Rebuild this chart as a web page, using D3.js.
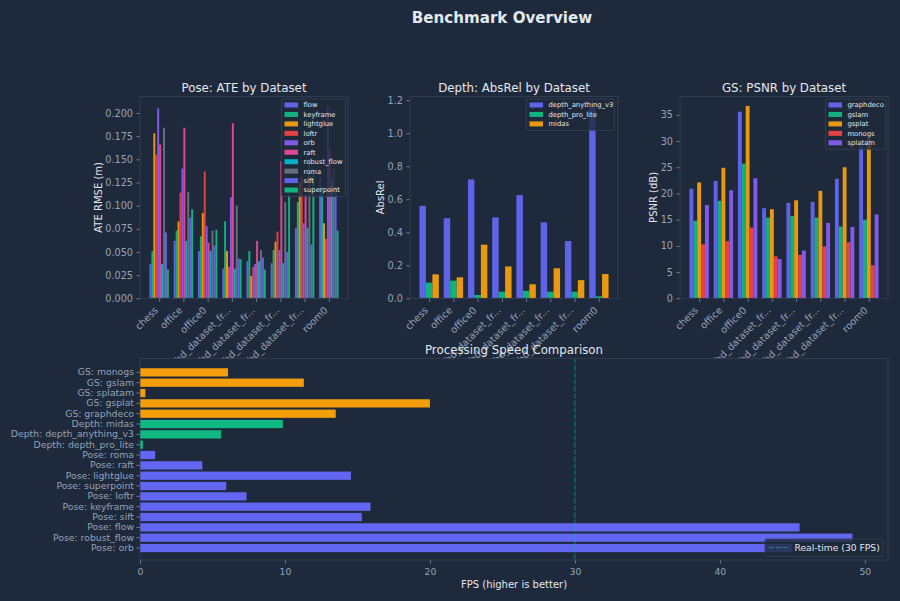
<!DOCTYPE html>
<html>
<head>
<meta charset="utf-8">
<script src="https://cdn.jsdelivr.net/npm/d3@7"></script>
<style>
  html, body { margin: 0; background: #1e293b; }
  text { font-family: "DejaVu Sans", sans-serif; }
</style>
</head>
<body>
<div id="app"></div>
<script>
const width = 900, height = 601;

const datasets = ["chess", "office", "office0", "rgbd_dataset_fr...", "rgbd_dataset_fr...", "rgbd_dataset_fr...", "rgbd_dataset_fr...", "room0"];

const poseMethods = ["flow", "keyframe", "lightglue", "loftr", "orb", "raft", "robust_flow", "roma", "sift", "superpoint"];
const poseColors = ["#6366f1", "#10b981", "#f59e0b", "#ef4444", "#8b5cf6", "#ec4899", "#06b6d4", "#6b7280", "#6366f1", "#10b981"];
const poseValues = [
  [0.037, 0.051, 0.178, 0.155, 0.205, 0.166, 0.037, 0.184, 0.071, 0.031],
  [0.062, 0.073, 0.083, 0.114, 0.140, 0.184, 0.062, 0.115, 0.087, 0.096],
  [0.051, 0.067, 0.092, 0.137, 0.078, 0.060, 0.051, 0.073, 0.057, 0.074],
  [0.032, 0.083, 0.051, 0.034, 0.109, 0.189, 0.032, 0.100, 0.043, 0.042],
  [0.040, 0.051, 0.024, 0.034, 0.037, 0.062, 0.040, 0.052, 0.044, 0.031],
  [0.038, 0.052, 0.061, 0.072, 0.052, 0.148, 0.038, 0.104, 0.050, 0.112],
  [0.076, 0.104, 0.125, 0.131, 0.081, 0.112, 0.076, 0.150, 0.058, 0.140],
  [0.130, 0.120, 0.081, 0.064, 0.207, 0.160, 0.130, 0.140, 0.120, 0.073]
];

const depthMethods = ["depth_anything_v3", "depth_pro_lite", "midas"];
const depthColors = ["#6366f1", "#10b981", "#f59e0b"];
const depthValues = [
  [0.56, 0.095, 0.145],
  [0.485, 0.107, 0.127],
  [0.72, 0.02, 0.325],
  [0.49, 0.04, 0.193],
  [0.625, 0.045, 0.085],
  [0.46, 0.04, 0.182],
  [0.347, 0.04, 0.11],
  [1.16, 0.012, 0.147]
];

const gsMethods = ["graphdeco", "gslam", "gsplat", "monogs", "splatam"];
const gsColors = ["#6366f1", "#10b981", "#f59e0b", "#ef4444", "#8b5cf6"];
const gsValues = [
  [20.9, 14.8, 22.1, 10.3, 17.8],
  [22.4, 18.6, 24.9, 10.9, 20.6],
  [35.6, 25.7, 36.7, 13.5, 22.9],
  [17.2, 15.4, 17.0, 8.0, 7.5],
  [18.2, 15.7, 18.7, 8.3, 9.1],
  [18.4, 15.4, 20.5, 9.9, 14.4],
  [22.8, 13.7, 25.0, 10.7, 13.6],
  [29.5, 15.0, 30.5, 6.3, 16.0]
];

const speedLabels = ["Pose: orb", "Pose: robust_flow", "Pose: flow", "Pose: sift", "Pose: keyframe", "Pose: loftr", "Pose: superpoint", "Pose: lightglue", "Pose: raft", "Pose: roma", "Depth: depth_pro_lite", "Depth: depth_anything_v3", "Depth: midas", "GS: graphdeco", "GS: gsplat", "GS: splatam", "GS: gslam", "GS: monogs"];
const speedValues = [45.0, 49.15, 45.5, 15.3, 15.9, 7.35, 5.95, 14.55, 4.3, 1.05, 0.2, 5.6, 9.85, 13.5, 20.0, 0.37, 11.3, 6.07];
const speedColors = speedLabels.map(d => d.startsWith("Pose") ? "#6366f1" : d.startsWith("Depth") ? "#10b981" : "#f59e0b");

const bg = "#1e293b", edge = "#334155", tickCol = "#94a3b8", titleCol = "#e2e8f0";

const svg = d3.select("#app").append("svg")
  .attr("width", width).attr("height", height)
  .style("display", "block")
  .style("background", bg);

svg.append("text")
  .attr("x", 502).attr("y", 23)
  .attr("text-anchor", "middle")
  .attr("fill", titleCol)
  .attr("font-size", 15.1).attr("font-weight", "bold")
  .text("Benchmark Overview");

function grouped(opts) {
  const { left, right, values, methods, colors, yMax, ticks, fmt, title, ylabel, ylabelX, legend } = opts;
  const top = 96.5, bottom = 298.3;
  const n = methods.length, w = 0.8 / n;
  const x = d3.scaleLinear().domain([-0.4 - 0.39, 7.4 + 0.39]).range([left, right]);
  const y = d3.scaleLinear().domain([0, yMax]).range([bottom, top]);
  const g = svg.append("g");

  g.append("defs").append("clipPath").attr("id", "clip" + left)
    .append("rect").attr("x", left).attr("y", top).attr("width", right - left).attr("height", bottom - top);

  const plot = g.append("g").attr("clip-path", `url(#clip${left})`);
  values.forEach((row, i) => {
    plot.selectAll(null).data(row).enter().append("rect")
      .attr("x", (d, j) => x(i - 0.4 + j * w))
      .attr("width", x(w) - x(0))
      .attr("y", d => y(d))
      .attr("height", d => y(0) - y(d))
      .attr("fill", (d, j) => colors[j])
      .attr("fill-opacity", 0.95);
  });

  const yAxis = g.append("g").attr("transform", `translate(${left},0)`)
    .call(d3.axisLeft(y).tickValues(ticks).tickFormat(fmt).tickSize(3.5).tickPadding(3.5));
  const xAxis = g.append("g").attr("transform", `translate(0,${bottom})`)
    .call(d3.axisBottom(x).tickValues(d3.range(8)).tickFormat(i => datasets[i]).tickSize(3.5));
  xAxis.selectAll("text")
    .attr("text-anchor", "end")
    .attr("x", 0).attr("y", 0).attr("dy", 0)
    .attr("transform", "translate(-1,12.5) rotate(-45)");
  [yAxis, xAxis].forEach(a => {
    a.select(".domain").remove();
    a.selectAll("line").attr("stroke", tickCol).attr("stroke-width", 0.7);
    a.selectAll("text").attr("fill", tickCol).attr("font-size", 9.7).attr("font-family", '"DejaVu Sans"');
  });

  g.append("rect").attr("x", left).attr("y", top).attr("width", right - left).attr("height", bottom - top)
    .attr("fill", "none").attr("stroke", edge).attr("stroke-width", 0.8);

  g.append("text").attr("x", (left + right) / 2).attr("y", 92)
    .attr("text-anchor", "middle").attr("fill", titleCol).attr("font-size", 11.8).text(title);
  g.append("text").attr("transform", `translate(${ylabelX},${(top + bottom) / 2}) rotate(-90)`)
    .attr("text-anchor", "middle").attr("fill", titleCol).attr("font-size", 10).text(ylabel);

  // legend sits on top of the bars, half see-through
  const lg = g.append("g");
  lg.append("rect").attr("x", legend.x).attr("y", 99).attr("width", legend.w).attr("height", 9.45 * n + 3)
    .attr("rx", 1.5).attr("fill", bg).attr("fill-opacity", 0.8).attr("stroke", edge).attr("stroke-width", 0.8);
  methods.forEach((m, j) => {
    const ly = 105 + j * 9.45;
    lg.append("rect").attr("x", legend.x + 3).attr("y", ly - 2.5).attr("width", 13.5).attr("height", 5).attr("fill", colors[j]).attr("fill-opacity", 0.95);
    lg.append("text").attr("x", legend.x + 22).attr("y", ly + 2.4).attr("fill", titleCol).attr("font-size", 6.8).text(m);
  });
}

grouped({
  left: 140, right: 348, values: poseValues, methods: poseMethods, colors: poseColors,
  yMax: 0.2178, ticks: d3.range(0, 0.201, 0.025), fmt: d3.format(".3f"),
  title: "Pose: ATE by Dataset", ylabel: "ATE RMSE (m)", ylabelX: 102,
  legend: { x: 281.5, w: 64 }
});
grouped({
  left: 410, right: 618, values: depthValues, methods: depthMethods, colors: depthColors,
  yMax: 1.2225, ticks: d3.range(0, 1.21, 0.2), fmt: d3.format(".1f"),
  title: "Depth: AbsRel by Dataset", ylabel: "AbsRel", ylabelX: 384,
  legend: { x: 526.5, w: 88 }
});
grouped({
  left: 680, right: 888, values: gsValues, methods: gsMethods, colors: gsColors,
  yMax: 38.5, ticks: d3.range(0, 36, 5), fmt: d3.format("d"),
  title: "GS: PSNR by Dataset", ylabel: "PSNR (dB)", ylabelX: 657,
  legend: { x: 825.5, w: 60 }
});

// speed panel is drawn last: its background hides the ends of the rotated labels above
const sp = { left: 140, right: 888, top: 358.5, bottom: 560 };
const sx = d3.scaleLinear().domain([0, 51.6]).range([sp.left, sp.right]);
const sy = d3.scaleBand().domain(speedLabels).range([553.2, 367.2]).paddingInner(0.2).paddingOuter(0.1);
const sg = svg.append("g");

sg.append("rect").attr("x", sp.left).attr("y", sp.top).attr("width", sp.right - sp.left).attr("height", sp.bottom - sp.top)
  .attr("fill", bg);
sg.selectAll(null).data(speedLabels).enter().append("rect")
  .attr("x", sx(0))
  .attr("y", d => sy(d))
  .attr("height", sy.bandwidth())
  .attr("width", (d, i) => sx(speedValues[i]) - sx(0))
  .attr("fill", (d, i) => speedColors[i]);

sg.append("line").attr("x1", sx(30)).attr("x2", sx(30)).attr("y1", sp.top).attr("y2", sp.bottom)
  .attr("stroke", "#14b8a6").attr("stroke-width", 1).attr("stroke-dasharray", "5,2").attr("stroke-opacity", 0.6);

const syAxis = sg.append("g").attr("transform", `translate(${sp.left},0)`)
  .call(d3.axisLeft(sy).tickSize(3.5).tickPadding(2.5));
const sxAxis = sg.append("g").attr("transform", `translate(0,${sp.bottom})`)
  .call(d3.axisBottom(sx).tickValues([0, 10, 20, 30, 40, 50]).tickSize(3.5).tickPadding(4.5));
[syAxis, sxAxis].forEach(a => {
  a.select(".domain").remove();
  a.selectAll("line").attr("stroke", tickCol).attr("stroke-width", 0.7);
  a.selectAll("text").attr("fill", tickCol).attr("font-size", 9.3).attr("font-family", '"DejaVu Sans"');
});

sg.append("rect").attr("x", sp.left).attr("y", sp.top).attr("width", sp.right - sp.left).attr("height", sp.bottom - sp.top)
  .attr("fill", "none").attr("stroke", edge).attr("stroke-width", 0.8);

sg.append("text").attr("x", (sp.left + sp.right) / 2).attr("y", 354)
  .attr("text-anchor", "middle").attr("fill", titleCol).attr("font-size", 11.8).text("Processing Speed Comparison");
sg.append("text").attr("x", (sp.left + sp.right) / 2).attr("y", 587.5)
  .attr("text-anchor", "middle").attr("fill", titleCol).attr("font-size", 10).text("FPS (higher is better)");

const rl = sg.append("g");
rl.append("rect").attr("x", 765).attr("y", 539).attr("width", 118).attr("height", 17.5)
  .attr("rx", 1.5).attr("fill", bg).attr("fill-opacity", 0.8).attr("stroke", edge).attr("stroke-width", 0.8);
rl.append("line").attr("x1", 769).attr("x2", 788).attr("y1", 547.5).attr("y2", 547.5)
  .attr("stroke", "#14b8a6").attr("stroke-width", 1).attr("stroke-dasharray", "5,2").attr("stroke-opacity", 0.6);
rl.append("text").attr("x", 794.5).attr("y", 551).attr("fill", titleCol).attr("font-size", 9.2).text("Real-time (30 FPS)");
</script>
</body>
</html>
